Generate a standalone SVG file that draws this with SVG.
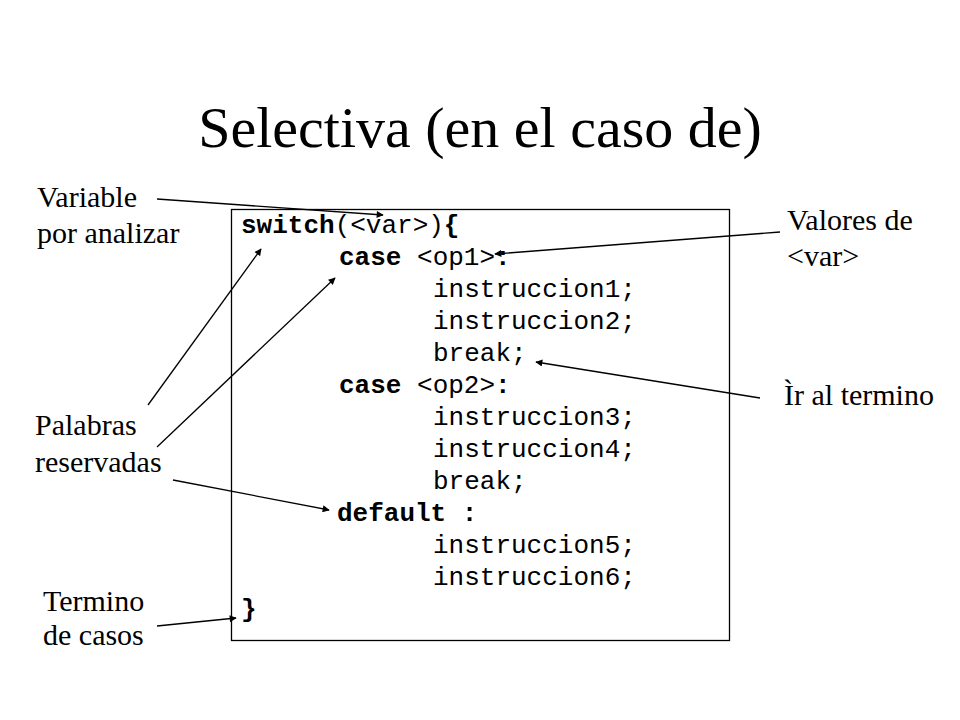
<svg xmlns="http://www.w3.org/2000/svg" width="960" height="720" viewBox="0 0 960 720">
<defs>
<style>
.title{font-family:"Liberation Serif","Times New Roman",serif;font-size:58px;fill:#000}
.lbl{font-family:"Liberation Serif","Times New Roman",serif;font-size:30px;fill:#000}
.code{font-family:"Liberation Mono","Courier New",monospace;font-size:26px;fill:#000}
.b{font-weight:bold}
.conn line{stroke:#000;stroke-width:1.3;marker-end:url(#ah)}
</style>
<marker id="ah" viewBox="0 0 10 10" refX="9" refY="5" markerWidth="8" markerHeight="7" markerUnits="userSpaceOnUse" orient="auto">
<path d="M0,0 L10,5 L0,10 z" fill="#000"/>
</marker>
</defs>
<rect width="960" height="720" fill="#fff"/>
<text id="title" class="title" x="480" y="147" text-anchor="middle">Selectiva (en el caso de)</text>
<g id="codebox">
<rect x="231.5" y="209.5" width="498" height="431" fill="#fff" stroke="#000" stroke-width="1.3"/>
<text class="code" x="241" y="233"><tspan class="b">switch</tspan>(&lt;var&gt;)<tspan class="b">{</tspan></text>
<text class="code" x="339" y="265"><tspan class="b">case</tspan> &lt;op1&gt;<tspan class="b">:</tspan></text>
<text class="code" x="433" y="297">instruccion1;</text>
<text class="code" x="433" y="329">instruccion2;</text>
<text class="code" x="433" y="361">break;</text>
<text class="code" x="339" y="393"><tspan class="b">case</tspan> &lt;op2&gt;<tspan class="b">:</tspan></text>
<text class="code" x="433" y="425">instruccion3;</text>
<text class="code" x="433" y="457">instruccion4;</text>
<text class="code" x="433" y="489">break;</text>
<text class="code b" x="337" y="521">default :</text>
<text class="code" x="433" y="553">instruccion5;</text>
<text class="code" x="433" y="585">instruccion6;</text>
<text class="code b" x="241" y="617">}</text>
</g>
<g id="label-variable"><text class="lbl" x="37" y="207">Variable</text><text class="lbl" x="37" y="243">por analizar</text></g>
<g id="label-valores"><text class="lbl" x="787" y="230">Valores de</text><text class="lbl" x="787" y="266">&lt;var&gt;</text></g>
<g id="label-ir"><text class="lbl" x="784" y="405">Ìr al termino</text></g>
<g id="label-palabras"><text class="lbl" x="35" y="435">Palabras</text><text class="lbl" x="35" y="472">reservadas</text></g>
<g id="label-termino"><text class="lbl" x="43" y="611">Termino</text><text class="lbl" x="43" y="645">de casos</text></g>
<g id="connectors" class="conn">
<line x1="157" y1="199" x2="383" y2="215"/>
<line x1="780" y1="232" x2="495" y2="254"/>
<line x1="760" y1="398" x2="536" y2="362"/>
<line x1="148" y1="405" x2="261" y2="249"/>
<line x1="157" y1="447" x2="335" y2="278"/>
<line x1="173" y1="480" x2="329" y2="510"/>
<line x1="157" y1="626" x2="236" y2="618"/>
</g>
</svg>
